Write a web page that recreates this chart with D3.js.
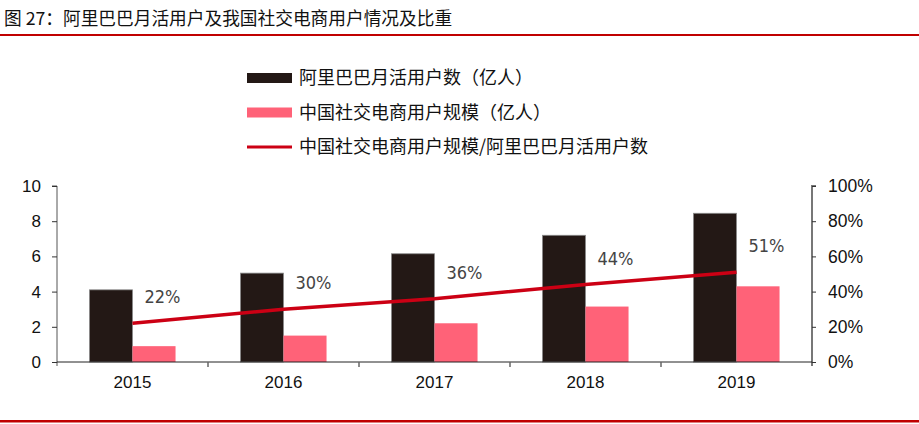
<!DOCTYPE html>
<html>
<head>
<meta charset="utf-8">
<script src="https://cdn.jsdelivr.net/npm/d3@7"></script>
<style>
  body { margin: 0; background: #fff; }
  svg { display: block; }
</style>
</head>
<body>
<div id="chart"></div>
<script>
// data
const years = ['2015', '2016', '2017', '2018', '2019'];
const aliUsers = [4.1, 5.05, 6.15, 7.2, 8.45];      // 阿里巴巴月活用户数（亿人）
const socialUsers = [0.9, 1.5, 2.2, 3.15, 4.3];     // 中国社交电商用户规模（亿人）
const ratio = [0.22, 0.30, 0.36, 0.44, 0.51];        // 比重
const ratioLabels = ['22%', '30%', '36%', '44%', '51%'];
const leftTicks = [0, 2, 4, 6, 8, 10];
const rightTicks = [0, 0.2, 0.4, 0.6, 0.8, 1];

const seriesNames = ['阿里巴巴月活用户数（亿人）', '中国社交电商用户规模（亿人）', '中国社交电商用户规模/阿里巴巴月活用户数'];

const W = 919, H = 424;
const margin = {top: 186, right: 107, bottom: 62, left: 57};
const cjk = '"Noto Sans CJK SC", "Noto Sans", sans-serif';
const num = '"Liberation Sans", Arial, sans-serif';

const svg = d3.select('#chart').append('svg')
  .attr('width', W)
  .attr('height', H);

// title + rules
svg.append('text')
  .attr('x', 4).attr('y', 25)
  .style('font-family', cjk)
  .style('font-size', '17.7px')
  .style('fill', '#111')
  .text('图 27：阿里巴巴月活用户及我国社交电商用户情况及比重');
svg.append('rect').attr('x', 0).attr('y', 34).attr('width', W).attr('height', 2).attr('fill', '#c00000');
svg.append('rect').attr('x', 0).attr('y', 420).attr('width', W).attr('height', 2.5).attr('fill', '#c00000');

const w = W - margin.left - margin.right;
const h = H - margin.top - margin.bottom;

const g = svg.append('g')
  .attr('transform', `translate(${margin.left},${margin.top})`);

const x = d3.scaleBand().domain(years).range([0, w]).padding(0);
const groupW = x.bandwidth() * 0.57;
const xs = d3.scaleBand().domain(['ali', 'social'])
  .range([(x.bandwidth() - groupW) / 2, (x.bandwidth() + groupW) / 2]);
const y = d3.scaleLinear().domain([0, 10]).range([h, 0]);
const y2 = d3.scaleLinear().domain([0, 1]).range([h, 0]);

// bars
const rows = years.map((yr, i) => ({yr, ali: aliUsers[i], social: socialUsers[i], r: ratio[i], lab: ratioLabels[i]}));

g.selectAll('.bar-ali')
  .data(rows)
  .enter().append('rect')
  .attr('x', d => x(d.yr) + xs('ali'))
  .attr('y', d => y(d.ali))
  .attr('width', xs.bandwidth())
  .attr('height', d => h - y(d.ali))
  .attr('fill', '#231815')
  .attr('stroke', '#8a8a8a')
  .attr('stroke-width', 0.8);

g.selectAll('.bar-social')
  .data(rows)
  .enter().append('rect')
  .attr('x', d => x(d.yr) + xs('social'))
  .attr('y', d => y(d.social))
  .attr('width', xs.bandwidth())
  .attr('height', d => h - y(d.social))
  .attr('fill', '#ff6278');

// left axis
const axL = g.append('g')
  .call(d3.axisLeft(y).tickValues(leftTicks).tickSize(5).tickPadding(11));
axL.select('.domain').attr('stroke', '#555').attr('d', `M-5,0H0V${h + 4}`);
axL.selectAll('.tick line').attr('stroke', '#333');
axL.selectAll('text').style('font-family', num).style('font-size', '17px').style('fill', '#111');

// right axis
const axR = g.append('g')
  .attr('transform', `translate(${w},0)`)
  .call(d3.axisRight(y2).tickValues(rightTicks).tickFormat(d3.format('.0%')).tickSize(4).tickPadding(12));
axR.select('.domain').attr('stroke', '#777').attr('stroke-width', 2).attr('d', `M4,0H0V${h + 4}`);
axR.selectAll('.tick line').attr('stroke', '#333');
axR.selectAll('text').style('font-family', num).style('font-size', '17.5px').style('fill', '#111');

// x axis
const axX = g.append('g')
  .attr('transform', `translate(0,${h})`)
  .call(d3.axisBottom(x).tickSize(0).tickPadding(14));
axX.select('.domain').attr('stroke', '#222').attr('d', `M0,0H${w}`);
axX.selectAll('text').style('font-family', num).style('font-size', '17px').style('fill', '#111');
g.selectAll('.xsep')
  .data(years.slice(1))
  .enter().append('line')
  .attr('x1', d => x(d)).attr('x2', d => x(d))
  .attr('y1', h).attr('y2', h + 5)
  .attr('stroke', '#666').attr('stroke-width', 1.5);

// ratio line
const line = d3.line()
  .x(d => x(d.yr) + x.bandwidth() / 2)
  .y(d => y2(d.r));
g.append('path')
  .datum(rows)
  .attr('d', line)
  .attr('fill', 'none')
  .attr('stroke', '#cc0014')
  .attr('stroke-width', 3.5);

g.selectAll('.rlab')
  .data(rows)
  .enter().append('text')
  .attr('x', d => x(d.yr) + x.bandwidth() / 2 + 12)
  .attr('y', d => y2(d.r) - 20)
  .style('font-family', '"DejaVu Sans Condensed", "Liberation Sans Narrow", sans-serif')
  .style('font-stretch', 'condensed')
  .style('font-size', '18px')
  .style('fill', '#444')
  .text(d => d.lab);

// legend
const leg = svg.append('g').attr('transform', 'translate(247,78)');
const rowH = 34.5;
seriesNames.forEach((name, i) => {
  const r = leg.append('g').attr('transform', `translate(0,${i * rowH})`);
  if (i < 2) {
    r.append('rect').attr('x', 0).attr('y', -5).attr('width', 45).attr('height', 10)
      .attr('fill', i === 0 ? '#231815' : '#ff6278');
  } else {
    r.append('line').attr('x1', 0).attr('x2', 45).attr('y1', 0).attr('y2', 0)
      .attr('stroke', '#cc0014').attr('stroke-width', 3);
  }
  r.append('text')
    .attr('x', 52).attr('y', 0).attr('dy', '0.35em')
    .style('font-family', cjk)
    .style('font-size', '18px')
    .style('fill', '#111')
    .text(name);
});
</script>
</body>
</html>
